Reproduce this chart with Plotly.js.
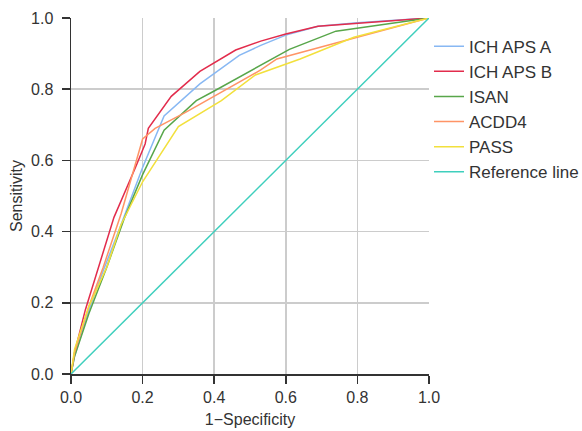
<!DOCTYPE html>
<html>
<head>
<meta charset="utf-8">
<script src="https://cdn.plot.ly/plotly-3.0.1.min.js"></script>
<style>html,body{margin:0;padding:0;background:#fff;}#chart{width:582px;height:431px;}</style>
</head>
<body>
<div id="chart"></div>
<script>
const seriesNames = ["ICH APS A", "ICH APS B", "ISAN", "ACDD4", "PASS", "Reference line"];
const apsA_x = [0, 0.01, 0.05, 0.09, 0.14, 0.20, 0.26, 0.36, 0.47, 0.53, 0.60, 0.69, 0.80, 1.0];
const apsA_y = [0, 0.05, 0.18, 0.29, 0.42, 0.58, 0.725, 0.815, 0.895, 0.923, 0.952, 0.977, 0.987, 1.0];
const apsB_x = [0, 0.01, 0.04, 0.08, 0.12, 0.18, 0.207, 0.216, 0.28, 0.36, 0.46, 0.53, 0.60, 0.69, 0.80, 1.0];
const apsB_y = [0, 0.06, 0.18, 0.31, 0.44, 0.58, 0.646, 0.69, 0.78, 0.85, 0.91, 0.935, 0.955, 0.977, 0.985, 1.0];
const isan_x = [0, 0.01, 0.05, 0.10, 0.15, 0.20, 0.26, 0.35, 0.40, 0.53, 0.61, 0.74, 0.80, 1.0];
const isan_y = [0, 0.05, 0.17, 0.30, 0.44, 0.56, 0.685, 0.768, 0.795, 0.866, 0.912, 0.963, 0.972, 1.0];
const acdd4_x = [0, 0.01, 0.05, 0.09, 0.14, 0.20, 0.235, 0.32, 0.53, 0.575, 0.74, 1.0];
const acdd4_y = [0, 0.06, 0.19, 0.30, 0.45, 0.66, 0.69, 0.735, 0.854, 0.885, 0.93, 1.0];
const pass_x = [0, 0.01, 0.05, 0.10, 0.14, 0.20, 0.30, 0.42, 0.515, 0.64, 0.79, 1.0];
const pass_y = [0, 0.07, 0.19, 0.30, 0.42, 0.54, 0.695, 0.768, 0.84, 0.885, 0.946, 1.0];
const ref_x = [0, 1];
const ref_y = [0, 1];
const xTicks = [0, 0.2, 0.4, 0.6, 0.8, 1.0];
const yTicks = [0, 0.2, 0.4, 0.6, 0.8, 1.0];
const tickText = ["0.0", "0.2", "0.4", "0.6", "0.8", "1.0"];

const colors = ["#88b8f3", "#e22c4c", "#58a64a", "#ff9466", "#f2e03c", "#3fcfbd"];
const xs = [apsA_x, apsB_x, isan_x, acdd4_x, pass_x, ref_x];
const ys = [apsA_y, apsB_y, isan_y, acdd4_y, pass_y, ref_y];
const traces = seriesNames.map((n, i) => ({
  x: xs[i], y: ys[i], name: n, type: "scatter", mode: "lines",
  line: {color: colors[i], width: 1.5}
}));
const fontFam = "Liberation Sans, Arial, sans-serif";
const axisCommon = {
  range: [0, 1], showgrid: true, gridcolor: "#cccccc", gridwidth: 1.5,
  zeroline: false, showline: true, linecolor: "#333", linewidth: 1.5,
  ticks: "outside", ticklen: 8, tickcolor: "#333", tickwidth: 1.5,
  tickfont: {family: fontFam, size: 16, color: "#333"}, fixedrange: true, automargin: false
};
const layout = {
  width: 582, height: 431,
  margin: {l: 71, r: 153, t: 18, b: 57, autoexpand: false},
  paper_bgcolor: "#fff", plot_bgcolor: "#fff",
  font: {family: fontFam, size: 16, color: "#333"},
  xaxis: Object.assign({}, axisCommon, {tickvals: xTicks, ticktext: tickText, ticklabelstandoff: 0,
    title: {text: "1\u2212Specificity", font: {family: fontFam, size: 16, color: "#333"}, standoff: 9}}),
  yaxis: Object.assign({}, axisCommon, {tickvals: yTicks, ticktext: tickText, ticklabelstandoff: 5,
    title: {text: "Sensitivity", font: {family: fontFam, size: 16, color: "#333"}, standoff: 4}}),
  showlegend: true,
  legend: {x: 1.0, y: 0.97, xanchor: "left", yanchor: "top", bgcolor: "rgba(0,0,0,0)",
    font: {family: fontFam, size: 17, color: "#333"}, itemwidth: 30, tracegroupgap: 0}
};
Plotly.newPlot("chart", traces, layout, {displayModeBar: false, staticPlot: true});
</script>
</body>
</html>
